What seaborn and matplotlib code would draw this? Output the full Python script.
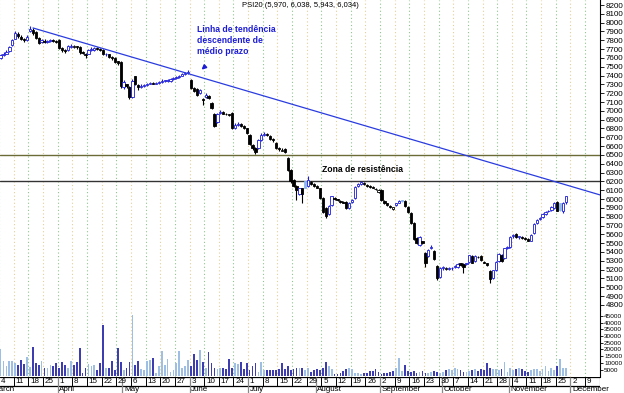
import numpy as np
import pandas as pd
import matplotlib
matplotlib.use("Agg")
import matplotlib.pyplot as plt
import seaborn as sns

# ---------------- data ----------------
opens = [7600,7630,7650,7680,7750,7820,7870,7840,7810,7800,7900,7920,7890,7830,7780,7790,7780,7790,7800,7790,
         7800,7710,7690,7690,7720,7720,7730,7720,7670,7650,7650,7690,7690,7710,7700,7690,7640,7640,7610,7600,
         7560,7550,7270,7300,7270,7160,7390,7290,7270,7280,7290,7310,7320,7310,7320,7330,7340,7340,7340,7360,
         7370,7380,7400,7420,7430,7350,7260,7250,7200,7140,7160,7170,7090,6970,6870,6980,6990,6970,6960,6980,
         6800,6840,6850,6830,6800,6730,6610,6580,6580,6670,6730,6740,6720,6680,6640,6580,6550,6570,6470,6330,
         6220,6150,6060,6120,6200,6150,6190,6170,6150,6120,6010,5900,5830,5930,6010,5995,5980,5970,5970,5900,
         5970,6010,6150,6170,6180,6160,6150,6140,6110,6080,6100,5980,5950,5920,5890,5930,5960,5985,5980,5910,
         5840,5730,5560,5480,5520,5390,5350,5440,5410,5240,5120,5220,5210,5210,5215,5230,5230,5270,5260,5260,
         5290,5350,5300,5340,5350,5290,5270,5180,5100,5190,5300,5370,5330,5450,5460,5580,5600,5570,5565,5555,
         5550,5530,5610,5730,5770,5800,5830,5860,5880,5900,5970,5950,5870,5970]
highs = [7650,7670,7690,7740,7820,7900,7890,7860,7830,7860,7960,7940,7900,7840,7820,7810,7800,7810,7810,7800,
         7810,7720,7700,7750,7760,7750,7740,7730,7680,7660,7700,7720,7720,7720,7710,7700,7660,7650,7620,7610,
         7570,7560,7350,7310,7280,7360,7400,7300,7300,7300,7320,7330,7330,7330,7340,7360,7350,7360,7370,7380,
         7400,7410,7430,7440,7460,7360,7270,7260,7250,7150,7200,7180,7100,6980,6980,7010,7000,6980,6970,6990,
         6860,6870,6860,6840,6810,6740,6620,6590,6680,6750,6760,6750,6730,6690,6650,6590,6580,6580,6480,6340,
         6230,6160,6130,6130,6210,6260,6200,6180,6160,6130,6020,5910,5930,6040,6020,6000,5990,5980,5980,5970,
         6000,6150,6180,6210,6190,6170,6160,6150,6130,6110,6110,5990,5960,5930,5910,5960,5990,5990,5990,5920,
         5850,5740,5570,5580,5530,5400,5430,5480,5420,5250,5230,5240,5230,5230,5230,5250,5270,5280,5270,5280,
         5370,5360,5360,5350,5360,5300,5280,5190,5200,5300,5390,5380,5450,5470,5580,5600,5620,5580,5580,5570,
         5560,5600,5730,5770,5800,5840,5860,5880,5920,5970,5980,5960,5970,6038]
lows = [7590,7620,7640,7670,7740,7810,7830,7800,7780,7790,7890,7860,7820,7760,7770,7770,7770,7780,7780,7770,
        7700,7670,7660,7680,7710,7710,7700,7650,7640,7600,7640,7680,7680,7690,7680,7630,7620,7600,7580,7540,
        7520,7260,7250,7260,7130,7150,7290,7240,7260,7270,7280,7300,7300,7300,7310,7320,7330,7330,7330,7350,
        7360,7370,7390,7410,7420,7250,7210,7170,7190,7070,7150,7140,7020,6820,6860,6970,6960,6950,6940,6790,
        6790,6830,6820,6790,6740,6610,6560,6510,6570,6660,6720,6720,6670,6650,6570,6550,6540,6520,6320,6180,
        6140,5990,6050,5960,6120,6140,6160,6140,6120,6000,5840,5780,5820,5920,5990,5980,5960,5950,5890,5890,
        5960,6000,6140,6160,6160,6140,6130,6120,6100,6070,5980,5940,5920,5900,5880,5920,5950,5970,5910,5840,
        5720,5540,5490,5470,5490,5230,5340,5430,5310,5080,5110,5200,5190,5200,5200,5220,5220,5240,5160,5250,
        5280,5270,5290,5330,5300,5270,5240,5050,5090,5180,5290,5290,5320,5430,5450,5560,5560,5550,5550,5540,
        5520,5520,5600,5720,5760,5790,5820,5850,5870,5890,5860,5870,5840,5943]
closes = [7630,7650,7670,7720,7800,7880,7850,7820,7800,7840,7930,7880,7830,7770,7800,7780,7790,7800,7790,7780,
          7710,7690,7680,7740,7740,7730,7720,7670,7660,7630,7690,7700,7710,7700,7690,7640,7640,7610,7600,7550,
          7540,7280,7330,7280,7160,7340,7300,7270,7280,7290,7310,7320,7310,7320,7330,7340,7340,7350,7360,7370,
          7380,7400,7420,7430,7440,7260,7230,7180,7240,7120,7180,7150,7030,6830,6970,6990,6970,6960,6950,6800,
          6840,6850,6830,6800,6750,6620,6580,6530,6670,6730,6740,6730,6680,6670,6580,6570,6560,6530,6330,6210,
          6150,6100,6120,6060,6130,6220,6170,6150,6130,6010,5850,5810,5920,6030,6000,5990,5970,5960,5900,5960,
          5990,6140,6170,6190,6170,6150,6140,6130,6110,6100,5990,5950,5930,5910,5905,5950,5980,5980,5920,5850,
          5730,5550,5500,5570,5500,5280,5420,5460,5320,5100,5220,5220,5210,5215,5220,5240,5260,5250,5230,5270,
          5360,5280,5350,5340,5310,5280,5250,5090,5190,5290,5380,5300,5440,5450,5570,5580,5570,5570,5560,5550,
          5530,5590,5720,5760,5790,5830,5850,5870,5910,5960,5870,5880,5960,6034]
volumes = [20000,11500,7700,11500,11500,10000,8500,12000,9000,14500,7000,22000,10000,8500,11000,6000,6500,8500,7700,9750,
           6000,10750,8500,6500,11000,8500,10750,21000,2250,6250,9000,7700,8200,4500,9500,38500,6500,6500,11500,4750,
           20750,10750,4500,6500,10750,46000,8500,11000,5250,4750,11000,12000,13250,2750,7700,18500,8500,12750,3500,4750,
           10000,18500,6500,7700,12000,7700,16250,12000,19500,10750,6500,17750,10000,6500,5250,6000,6000,5250,12750,6500,
           10000,9000,10750,5750,9500,4750,7700,10000,3250,10750,4750,4500,4500,4500,4500,5750,9750,5750,7700,4500,
           5250,6000,6500,6500,4500,6500,3500,4500,5750,4500,
           6500,10250,7750,5250,1500,1500,2500,4000,5250,6500,5750,2750,2750,1500,2500,2750,4000,4000,5250,3250,
           1500,2500,2500,3250,4000,6500,13500,4000,8250,4000,3250,4000,2750,3250,4000,2750,2500,3000,4000,3250,
           2750,3250,4750,5750,4750,6500,5250,4750,3250,3250,4000,4500,5250,4000,5250,4750,9500,6500,5750,5250,
           4750,5750,10250,3250,6500,4750,5750,6500,5750,4000,3250,4750,5250,5750,4000,5750,7750,4000,6500,4750,
           7750,12750,6500,6500]

week_labels = ["4","11","18","25","1","8","15","22","29","6","13","20","27","3","10","17","24","1","8","15",
               "22","29","5","12","19","26","2","9","16","23","30","7","14","21","28","4","11","18","25","2","9"]
month_labels = ["March","April","May","June","July","August","September","October","November","December"]
month_start = [-3, 20, 42, 65, 85, 108, 130, 151, 174, 195]
price_ticks = list(range(4800, 8300, 100))
volume_ticks = list(range(5000, 50000, 5000))
resistance = [6500, 6200]
trend_x = [11.06, 204.6]
trend_y = [7940, 6047]
title = "PSI20 (5,970, 6,038, 5,943, 6,034)"

# ---------------- styling ----------------
sns.set_theme(style="white")
plt.rcParams["font.family"] = ["Liberation Sans", "DejaVu Sans"]

BLUE = "#1c1cd8"
LBLUE = "#8db6ee"
VDARK = "#2a2ac4"
VLIGHT = "#94bdee"

df = pd.DataFrame({"o": opens, "h": highs, "l": lows, "c": closes, "v": volumes})
df["i"] = np.arange(len(df))
prev = df["c"].shift(1).fillna(df["o"])
up_day = df["c"] >= prev
hollow = df["c"] >= df["o"]
edge = np.where(up_day, np.where(hollow, BLUE, LBLUE), "black")
face = np.where(hollow, "white", np.where(up_day, LBLUE, "black"))
df["vcol"] = np.where(up_day, "light", "dark")

W, H = 624, 393
fig = plt.figure(figsize=(W / 100, H / 100), dpi=100)
fig.patch.set_facecolor("white")
plot_w = 600 / W
xlim = (-0.2, 204.6)

ax_p = fig.add_axes([0, 1 - 310 / H, plot_w, 310 / H])
ax_v = fig.add_axes([0, 16 / H, plot_w, (377 - 310) / H])
ax_d = fig.add_axes([0, 0, plot_w, 16 / H])

for ax in (ax_p, ax_v):
    ax.set_facecolor("white")
    for w in range(len(week_labels)):
        col = "#8fc48f" if w % 2 == 0 else "#e2cf9a"
        ax.axvline(5 * w - 0.5, color=col, lw=0.8, ls=(0, (1, 2.2)), zorder=0)
    for s in ("left", "top", "bottom"):
        ax.spines[s].set_visible(False)
    ax.spines["right"].set_color("black")
    ax.spines["right"].set_linewidth(0.8)
    ax.yaxis.tick_right()
    ax.tick_params(axis="y", direction="out", length=3, width=0.6, labelsize=5.8, pad=1,
                   colors="black", right=True, left=False)
    ax.tick_params(axis="x", bottom=False, labelbottom=False)
    ax.set_xlim(*xlim)
    ax.grid(False)

# candles
ax_p.vlines(df["i"], df["l"], df["h"], colors=edge, lw=0.8, zorder=2)
body = (df["c"] - df["o"]).abs().clip(lower=8)
ax_p.bar(df["i"], body, bottom=np.minimum(df["o"], df["c"]), width=0.78,
         color=face, edgecolor=edge, linewidth=0.6, zorder=3)

for lvl, col in zip(resistance, ["#6b6b38", "#333333"]):
    ax_p.axhline(lvl, color=col, lw=1.0, zorder=1)
sns.lineplot(x=trend_x, y=trend_y, color="#2a3ce0", lw=0.9, ax=ax_p, zorder=4)

ax_p.set_ylim(4742, 8257)
ax_p.set_yticks(price_ticks)
ax_p.set_yticklabels([str(t) for t in price_ticks])
ax_p.set_xlim(*xlim)
ax_p.set_xlabel("")
ax_p.set_ylabel("")

ax_p.text(67.0, 7975, "Linha de tendência\ndescendente de\nmédio prazo", color=BLUE,
          fontsize=6.2, fontweight="bold", ha="left", va="top", linespacing=1.3)
ax_p.annotate("", xy=(67.9, 7445), xytext=(70.5, 7525),
              arrowprops=dict(arrowstyle="-|>", color=BLUE, lw=1.2, mutation_scale=6))
ax_p.text(109.7, 6340, "Zona de resistência", color="black", fontsize=6.2,
          fontweight="bold", ha="left", va="center")

# volume
sns.barplot(data=df, x="i", y="v", hue="vcol", palette={"dark": VDARK, "light": VLIGHT},
            native_scale=True, dodge=False, errorbar=None, legend=False, width=0.6,
            linewidth=0, ax=ax_v)
ax_v.set_ylim(-600, 49500)
ax_v.set_yticks(volume_ticks)
ax_v.set_yticklabels([str(t) for t in volume_ticks])
ax_v.set_xlim(*xlim)
ax_v.set_xlabel("")
ax_v.set_ylabel("")
ax_v.tick_params(axis="y", labelsize=4.6, length=2, pad=1)

# date band
ax_d.set_xlim(*xlim)
ax_d.set_ylim(0, 16)
ax_d.axis("off")
ax_d.axhline(15.7, color="black", lw=0.9)
ax_d.axhline(7.3, color="black", lw=0.9)
for w, lab in enumerate(week_labels):
    x = 5 * w - 0.5
    ax_d.vlines(x, 7.3, 15.7, color="black", lw=0.7)
    ax_d.text(x + 0.6, 11.5, lab, fontsize=5.8, ha="left", va="center", color="black")
for ms, lab in zip(month_start, month_labels):
    x = ms - 0.5
    ax_d.vlines(x, 0, 15.7, color="#888888", lw=0.9)
    ax_d.text(x + 0.6, 3.4, lab, fontsize=5.8, ha="left", va="center", color="black", clip_on=False)
ax_d.vlines(xlim[1], 0, 16, color="black", lw=0.8)

fig.text(300 / W, 1 - 5.5 / H, title, fontsize=5.5, ha="center", va="center", color="black")

fig.savefig("out.png", dpi=100, facecolor="white")
